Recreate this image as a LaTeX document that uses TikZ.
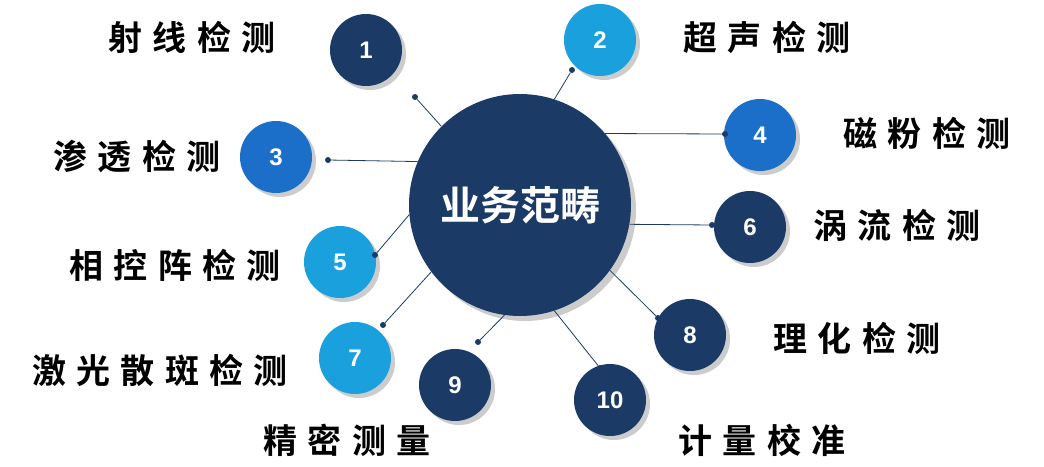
\documentclass[tikz,border=0pt]{standalone}
\usepackage{fontspec}
\newfontfamily\cjk[LetterSpace=30]{Noto Sans CJK SC Bold}
\newfontfamily\cjkc{Noto Sans CJK SC Bold}
\setmainfont{Liberation Sans}
\usetikzlibrary{shadows}
\definecolor{navy}{HTML}{1B3A66}
\definecolor{midblue}{HTML}{1B6FC8}
\definecolor{skyblue}{HTML}{1AA0DC}
\begin{document}
\begin{tikzpicture}
  [x=1pt,y=-1pt,
   ball/.style={circle,minimum size=72pt,inner sep=0pt,text=white,font=\bfseries\fontsize{24}{24}\selectfont,drop shadow={shadow xshift=4pt,shadow yshift=-4pt,opacity=0.4}},
   lbl/.style={font=\cjk\fontsize{34}{34}\selectfont},
   dot/.style={circle,fill=navy,inner sep=0pt,minimum size=6pt},
   link/.style={navy,line width=0.8pt}]
  \useasboundingbox (0,0) rectangle (1044,466);
  \node (hub) at (520,205) [circle,fill=navy,minimum size=222pt,text=white,font=\cjkc\fontsize{40}{40}\selectfont,drop shadow={shadow xshift=5pt,shadow yshift=-5pt,opacity=0.4}] {业务范畴};
  \node (b1) at (366,50) [ball,fill=navy] {1};
  \node (b2) at (600,40) [ball,fill=skyblue] {2};
  \node (b3) at (276,157) [ball,fill=midblue] {3};
  \node (b4) at (760,135) [ball,fill=midblue] {4};
  \node (b5) at (340,262) [ball,fill=skyblue] {5};
  \node (b6) at (750,227) [ball,fill=navy] {6};
  \node (b7) at (355,358) [ball,fill=skyblue] {7};
  \node (b8) at (690,335) [ball,fill=navy] {8};
  \node (b9) at (455,385) [ball,fill=navy] {9};
  \node (b10) at (610,400) [ball,fill=navy] {10};

  \node (d1) at (415,97) [dot] {};
  \node (d2) at (572,70) [dot] {};
  \node (d3) at (328,160) [dot] {};
  \node (d4) at (725,134) [dot] {};
  \node (d5) at (375,255) [dot] {};
  \node (d6) at (712,225) [dot] {};
  \node (d7) at (383,325) [dot] {};
  \node (d8) at (658,318) [dot] {};
  \node (d9) at (478,342) [dot] {};
  \node (d10) at (600,368) [dot] {};
  \draw[link] (d1) -- (hub.135);
  \draw[link] (d2) -- (hub.72);
  \draw[link] (d3) -- (hub.157);
  \draw[link] (d4) -- (hub.40);
  \draw[link] (d5) -- (hub.185);
  \draw[link] (d6) -- (hub.-10);
  \draw[link] (d7) -- (hub.217);
  \draw[link] (d8) -- (hub.-36);
  \draw[link] (d9) -- (hub.-98);
  \draw[link] (d10) -- (hub.-72);

  \node (t1) at (192,37) [lbl] {射线检测};
  \node (t2) at (767,37) [lbl] {超声检测};
  \node (t3) at (137,157) [lbl] {渗透检测};
  \node (t4) at (927,133) [lbl] {磁粉检测};
  \node (t5) at (175,265) [lbl] {相控阵检测};
  \node (t6) at (897,225) [lbl] {涡流检测};
  \node (t7) at (160,370) [lbl] {激光散斑检测};
  \node (t8) at (857,338) [lbl] {理化检测};
  \node (t9) at (347,440) [lbl] {精密测量};
  \node (t10) at (762,440) [lbl] {计量校准};
\end{tikzpicture}
\end{document}
